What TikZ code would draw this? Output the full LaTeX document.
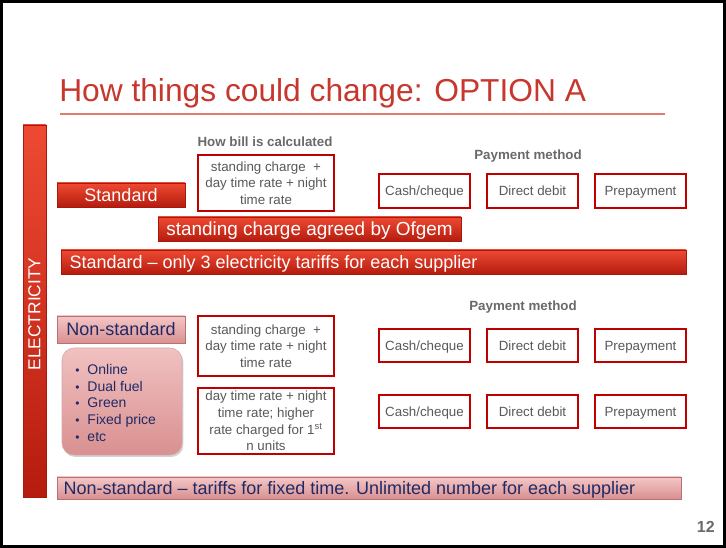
\documentclass[tikz,border=0pt]{standalone}
\usepackage{fontspec}
\setmainfont{Liberation Sans}
\usetikzlibrary{shadows}
\definecolor{titlered}{HTML}{C8372D}
\definecolor{lineRed}{HTML}{E27A6E}
\definecolor{redtop}{HTML}{EE4A33}
\definecolor{redbot}{HTML}{B51C0E}
\definecolor{rededge}{HTML}{A8180C}
\definecolor{pinktop}{HTML}{F4C6C6}
\definecolor{pinkbot}{HTML}{D99090}
\definecolor{pinkedge}{HTML}{B87070}
\definecolor{boxred}{HTML}{C00000}
\definecolor{navy}{HTML}{1F2A66}
\definecolor{txtgray}{HTML}{595959}
\definecolor{lblgray}{HTML}{6A6A6A}
\newcommand{\bx}[7]{\node[#6, minimum width={(#4-#2)*0.75pt}, minimum height={(#5-#3)*0.75pt}] (#1) at ({(#2+#4)/2},{(#3+#5)/2}) {#7};}
\tikzset{
  barbase/.style={rectangle, inner sep=0pt, line width=0.4pt, text height=9.7pt, text depth=0pt,
     drop shadow={shadow xshift=1pt, shadow yshift=-1pt, fill=black!35, opacity=0.5},
     font=\fontsize{13.5}{15}\selectfont},
  redbar/.style={barbase, top color=redtop, bottom color=redbot, draw=rededge, text=white},
  pinkbar/.style={barbase, top color=pinktop, bottom color=pinkbot, draw=pinkedge, text=navy},
  calcbox/.style={rectangle, inner sep=0pt, draw=boxred, line width=1.4pt, fill=white, text=txtgray,
     align=center, font=\fontsize{10}{12.4}\selectfont},
  paybox/.style={rectangle, inner sep=0pt, draw=boxred, line width=1.4pt, fill=white, text=txtgray,
     text height=7.2pt, text depth=0pt, font=\fontsize{10}{12}\selectfont},
  hdr/.style={inner sep=0pt, text=lblgray, font=\bfseries\fontsize{10}{12}\selectfont}
}
\begin{document}
\begin{tikzpicture}[x=0.75pt, y=-0.75pt]
\useasboundingbox (0,0) rectangle (726,548);
\fill[white] (0,0) rectangle (726,548);
\draw[black, line width=2pt] (1.5,1.5) rectangle (724.5,546.5);

% title
\node[anchor=base west, inner sep=0pt, text=titlered, font=\fontsize{23.8}{28}\selectfont] (title) at (59,102) {How things could change: OPTION A};
\draw[lineRed, line width=0.8pt] (60,114) -- (665,114);

% electricity bar
\bx{elec}{23}{125}{46}{497}{redbar}{}
\node[rotate=90, text=white, font=\fontsize{13}{15}\selectfont, inner sep=0pt] (electxt) at (34.5,314) {ELECTRICITY};

% standard section
\node[hdr] (hbc) at (265,142) {How bill is calculated};
\bx{std}{57}{183}{185}{207}{redbar}{Standard}
\bx{calc1}{198}{155}{334}{211}{calcbox}{standing charge\ \ +\\day time rate + night\\time rate}
\node[hdr] (pm1) at (528,156) {Payment method};
\bx{cash1}{379}{174}{470}{208}{paybox}{Cash/cheque}
\bx{dd1}{487}{174}{578}{208}{paybox}{Direct debit}
\bx{pre1}{595}{174}{686}{208}{paybox}{Prepayment}
\bx{ofgem}{158}{217}{461}{241}{redbar, font=\fontsize{14.2}{16}\selectfont, text height=10.2pt}{standing charge agreed by Ofgem}
\bx{stdbar}{61}{250}{686}{274}{redbar}{\hspace*{6pt}\makebox[462pt][l]{Standard -- only 3 electricity tariffs for each supplier}}

% non-standard section
\node[hdr] (pm2) at (523,307) {Payment method};
\bx{nonstd}{57}{316}{185}{343}{pinkbar}{Non-standard}
\node[rectangle, rounded corners=9pt, inner sep=0pt, top color=pinktop!90!pinkbot, bottom color=pinkbot,
  draw=pinkedge!60, line width=0.4pt, drop shadow={shadow xshift=1pt, shadow yshift=-1.5pt, fill=black!35, opacity=0.5},
  minimum width={(182-62)*0.75pt}, minimum height={(455-348)*0.75pt}] (list) at (122,401.5) {};
\node[anchor=west, inner sep=0pt, align=left, text=navy, font=\fontsize{10.5}{12.6}\selectfont] (listtxt) at (75,403)
  {{\small\textbullet}\hspace{6pt}Online\\{\small\textbullet}\hspace{6pt}Dual fuel\\{\small\textbullet}\hspace{6pt}Green\\{\small\textbullet}\hspace{6pt}Fixed price\\{\small\textbullet}\hspace{6pt}etc};
\bx{calc2}{198}{316}{334}{376}{calcbox}{standing charge\ \ +\\day time rate + night\\time rate}
\bx{calc3}{198}{388}{334}{454}{calcbox}{day time rate + night\\time rate; higher\\rate charged for 1\textsuperscript{st}\\n units}
\bx{cash2}{379}{329}{470}{362}{paybox}{Cash/cheque}
\bx{dd2}{487}{329}{578}{362}{paybox}{Direct debit}
\bx{pre2}{595}{329}{686}{362}{paybox}{Prepayment}
\bx{cash3}{379}{395}{470}{428}{paybox}{Cash/cheque}
\bx{dd3}{487}{395}{578}{428}{paybox}{Direct debit}
\bx{pre3}{595}{395}{686}{428}{paybox}{Prepayment}
\bx{nsbar}{57}{477}{681}{499}{pinkbar}{\hspace*{4pt}\makebox[462pt][l]{Non-standard -- tariffs for fixed time. Unlimited number for each supplier}}

% page number
\node[anchor=base east, inner sep=0pt, text=lblgray, font=\bfseries\fontsize{12}{14}\selectfont] (pg) at (715,533) {12};
\end{tikzpicture}
\end{document}
